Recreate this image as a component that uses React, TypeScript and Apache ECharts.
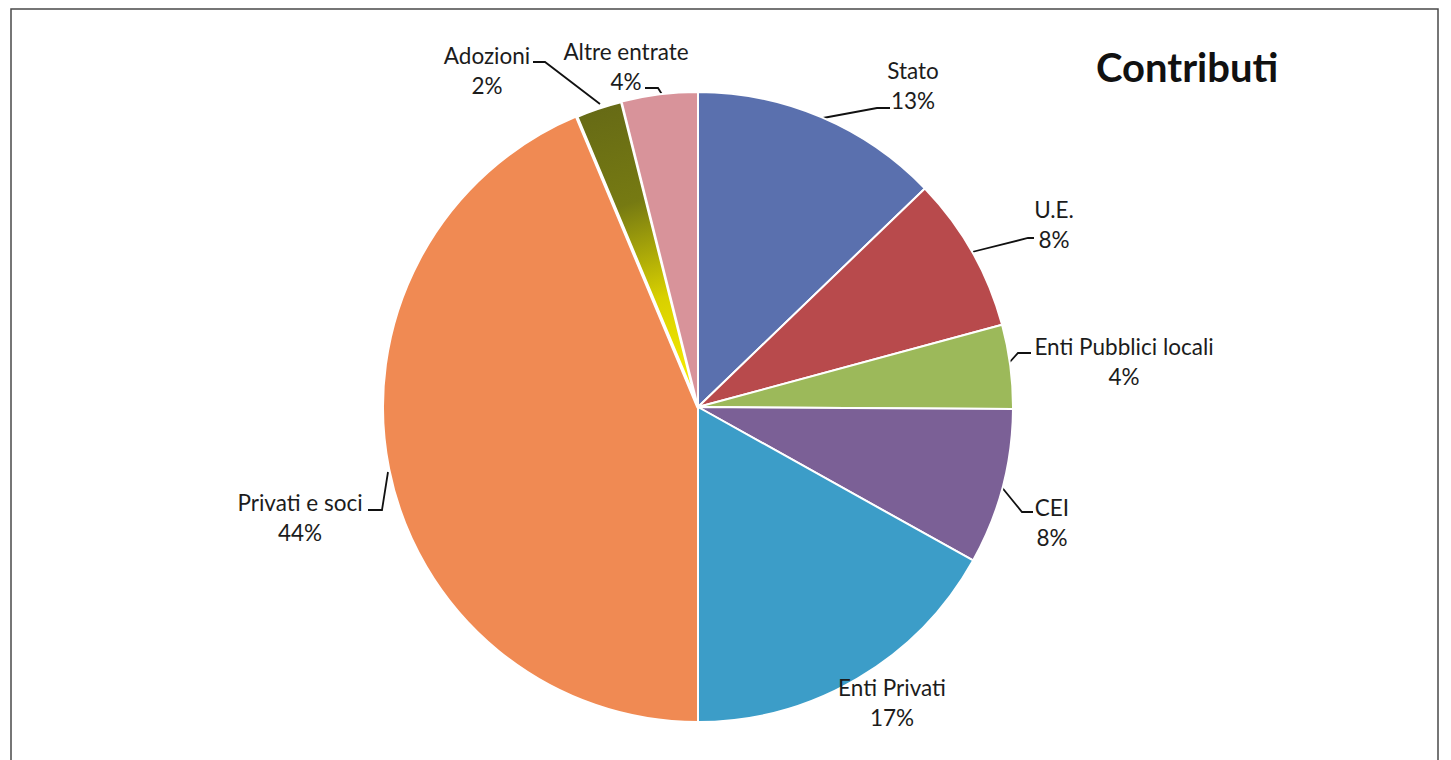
import React, { useEffect, useRef } from "react";
import * as echarts from "echarts";

const categories = [
  "Stato",
  "U.E.",
  "Enti Pubblici locali",
  "CEI",
  "Enti Privati",
  "Privati e soci",
  "Adozioni",
  "Altre entrate",
];
const values = [12.8, 8.0, 4.3, 8.0, 16.9, 43.7, 2.4, 3.9];
const sliceColors = [
  "#5a70ae",
  "#b84a4c",
  "#9cb95a",
  "#7b6096",
  "#3c9dc8",
  "#f08a53",
  "ADOZ",
  "#d8939a",
];
const titleText = "Contributi";

// layout (pixel positions of label blocks and their leader lines)
const CX = 698;
const CY = 407;
const R = 315;
const labelPos: [number, number][] = [
  [913, 85],
  [1054, 224],
  [1124, 361],
  [1052, 522],
  [892, 702],
  [300, 517],
  [487, 70],
  [626, 66],
];
const leaderLines: (number[][] | null)[] = [
  [[823, 118], [877, 108], [890, 108]],
  [[972, 252], [1028, 238], [1034, 238]],
  [[1008, 364], [1018, 353], [1031, 353]],
  [[1000, 485], [1022, 512], [1033, 512]],
  null,
  [[388, 472], [382, 510], [368, 510]],
  [[600, 104], [545, 62], [533, 62]],
  [[663, 96], [658, 88], [645, 88]],
];

export default function App() {
  const ref = useRef<HTMLDivElement>(null);
  useEffect(() => {
    if (!ref.current) return;
    const chart = echarts.init(ref.current, null, { renderer: "svg" });
    const adozGradient = {
      type: "linear",
      x: CX - 100,
      y: CY - R,
      x2: CX,
      y2: CY,
      global: true,
      colorStops: [
        { offset: 0, color: "#646816" },
        { offset: 0.35, color: "#767a12" },
        { offset: 0.65, color: "#d8d000" },
        { offset: 1, color: "#fff200" },
      ],
    };
    const data = categories.map((name, i) => ({
      name,
      value: values[i],
      itemStyle: {
        color: sliceColors[i] === "ADOZ" ? adozGradient : sliceColors[i],
        borderWidth: sliceColors[i] === "ADOZ" ? 3.5 : 2,
      },
      labelLine: { show: leaderLines[i] !== null },
    }));
    chart.setOption({
      animation: false,
      backgroundColor: "#ffffff",
      graphic: [
        {
          type: "rect",
          shape: { x: 11, y: 9, width: 1427, height: 760 },
          style: { fill: "none", stroke: "#4a4a4a", lineWidth: 1.5 },
          silent: true,
          z: -1,
        },
        {
          type: "text",
          left: 1096,
          top: 47,
          style: {
            text: titleText,
            font: "bold 40px Lato",
            fill: "#111111",
          },
        },
      ],
      series: [
        {
          type: "pie",
          center: [CX, CY],
          radius: R,
          startAngle: 90,
          clockwise: true,
          percentPrecision: 0,
          avoidLabelOverlap: false,
          emphasis: { disabled: true },
          itemStyle: { borderColor: "#ffffff", borderWidth: 2 },
          label: {
            show: true,
            position: "outside",
            formatter: "{b}\n{d}%",
            fontFamily: "Lato",
            fontSize: 22.5,
            lineHeight: 30,
            color: "#1c1c1c",
            align: "center",
          },
          labelLine: {
            show: true,
            length: 10,
            length2: 10,
            lineStyle: { color: "#111111", width: 1.8 },
          },
          labelLayout: (params: any) => {
            const i = params.dataIndex;
            const p = labelPos[i];
            const out: any = {
              x: p[0],
              y: p[1],
              align: "center",
              verticalAlign: "middle",
            };
            if (leaderLines[i]) out.labelLinePoints = leaderLines[i];
            return out;
          },
          data,
        },
      ],
    });
    return () => chart.dispose();
  }, []);
  return (
    <div
      ref={ref}
      style={{ position: "absolute", left: 0, top: 0, width: 1451, height: 760 }}
    />
  );
}
